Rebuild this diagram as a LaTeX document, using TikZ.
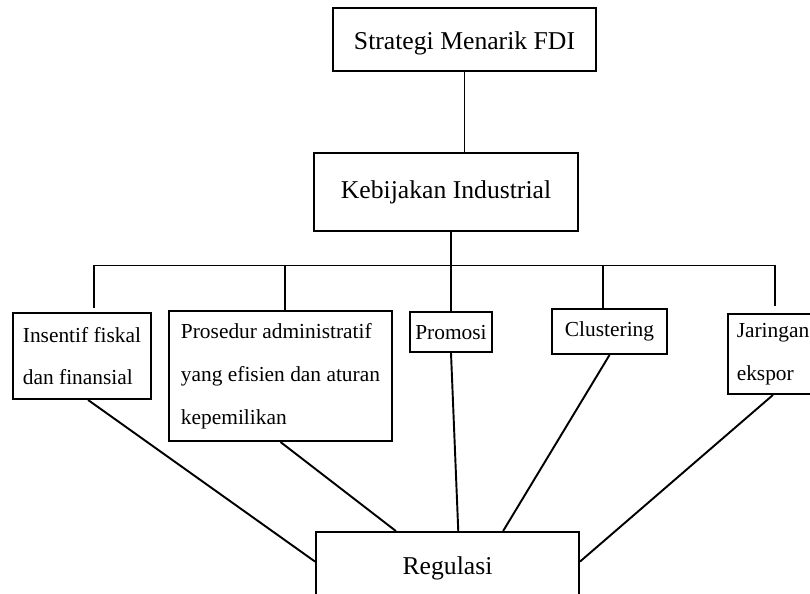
\documentclass[tikz,border=0pt]{standalone}
\usepackage{fontspec}
\setmainfont{Liberation Serif}
\usetikzlibrary{calc}
\tikzset{
         kotak/.style={draw,line width=0.9pt,inner sep=2pt,font=\fontsize{12}{14}\selectfont},
         kotakkecil/.style={draw,line width=0.9pt,inner sep=2pt,align=left,font=\fontsize{10}{20}\selectfont},
         garis/.style={line width=0.9pt}
        }

\begin{document}
\begin{tikzpicture}
    \useasboundingbox (0,0) rectangle (13.305,9.741); % page size
    \node[kotak,minimum width=4.32cm,minimum height=1.035cm,text height=12.4pt,text depth=2.6pt] (strategi) at (7.630,9.092) {Strategi Menarik FDI}; % top box
    \node[kotak,minimum width=4.336cm,minimum height=1.281cm] (kebijakan) at (7.326,6.587) {Kebijakan Industrial}; % middle box
    \node[kotakkecil,minimum width=2.267cm,minimum height=1.413cm] (insentif) at (1.347,3.893) {Insentif fiskal\\dan finansial}; % box 1
    \node[kotakkecil,minimum width=3.663cm,minimum height=2.135cm] (prosedur) at (4.607,3.564) {Prosedur administratif\\yang efisien dan aturan\\kepemilikan}; % box 2
    \node[kotakkecil,minimum width=1.347cm,minimum height=0.657cm] (promosi) at (7.408,4.287) {Promosi}; % box 3
    \node[kotakkecil,minimum width=1.889cm,minimum height=0.739cm] (clustering) at (10.012,4.295) {Clustering}; % box 4
    \node[kotakkecil,minimum width=1.478cm,minimum height=1.314cm] (jaringan) at (12.697,3.926) {Jaringan\\ekspor}; % box 5
    \node[kotak,minimum width=4.32cm,minimum height=1.199cm] (regulasi) at (7.351,0.402) {Regulasi}; % bottom box
    \coordinate (b1) at (1.544,5.380); % bus ends and drops
    \coordinate (b2) at (4.681,5.380);
    \coordinate (b4) at (9.905,5.380);
    \coordinate (b5) at (12.730,5.380);
    \draw[garis] (strategi.south) -- (strategi.south |- kebijakan.north); % Wiring
    \draw[garis] (promosi.north |- kebijakan.south) -- (promosi.north); % Wiring
    \draw[garis] (b1) -- (b5); % bus
    \draw[garis,shorten >=1.9pt] (b1) -- (b1 |- insentif.north);
    \draw[garis] (b2) -- (b2 |- prosedur.north);
    \draw[garis] (b4) -- (b4 |- clustering.north);
    \draw[garis,shorten >=3.3pt] (b5) -- (b5 |- jaringan.north);
    \draw[garis] ($(insentif.south)+(0.1,0)$) -- (regulasi.177); % to Regulasi
    \draw[garis] (prosedur.south) -- (regulasi.144);
    \draw[garis] (promosi.south) -- (regulasi.74);
    \draw[garis] (clustering.south) -- (regulasi.34);
    \draw[garis] (jaringan.south) -- (regulasi.3);
\end{tikzpicture}
\end{document}
